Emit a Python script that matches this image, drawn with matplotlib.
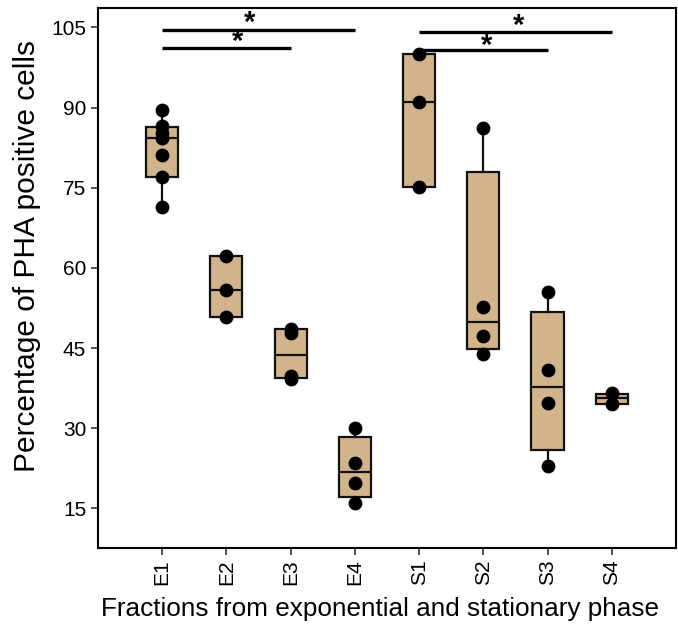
import matplotlib
matplotlib.use("Agg")
import matplotlib.pyplot as plt

plt.rcParams['font.family'] = ['Liberation Sans', 'DejaVu Sans']

fractions = ['E1', 'E2', 'E3', 'E4', 'S1', 'S2', 'S3', 'S4']

# individual measurements per fraction
points = [
    [89.5, 86.5, 85.3, 84.3, 81.2, 77.0, 71.4],
    [62.2, 55.8, 50.9],
    [48.6, 47.8, 39.8, 39.2],
    [30.1, 23.5, 19.8, 16.0],
    [100.0, 91.0, 75.1],
    [86.1, 52.7, 47.2, 43.9],
    [55.5, 40.9, 34.7, 22.9],
    [36.6, 34.6],
]

# box summaries as drawn
q1 = [77.0, 50.8, 39.4, 17.1, 75.1, 44.8, 25.9, 34.5]
med = [84.3, 55.8, 43.7, 21.8, 91.0, 49.9, 37.7, 35.6]
q3 = [86.4, 62.2, 48.5, 28.4, 100.0, 77.9, 51.7, 36.4]
whislo = [71.4, 50.8, 39.2, 16.0, 75.1, 43.9, 22.9, 34.5]
whishi = [89.5, 62.2, 48.6, 30.1, 100.0, 86.1, 55.5, 36.4]

# significance brackets: (from, to, line y, star x, star y)
sig_from = [1, 1, 5, 5]
sig_to = [4, 3, 8, 7]
sig_y = [104.6, 101.1, 104.1, 100.7]
star_x = [2.36, 2.18, 6.55, 6.05]
star_y = [105.8, 102.3, 105.2, 101.6]

fig, ax = plt.subplots(figsize=(6.78, 6.26), dpi=100)
fig.subplots_adjust(left=0.1445, right=0.997, top=0.987, bottom=0.1246)

stats = []
for i in range(len(fractions)):
    stats.append(dict(q1=q1[i], med=med[i], q3=q3[i], whislo=whislo[i],
                      whishi=whishi[i], fliers=[], label=fractions[i]))

pos = list(range(1, len(fractions) + 1))
ax.bxp(stats, positions=pos, widths=0.5, patch_artist=True,
       showcaps=False, showfliers=False,
       boxprops=dict(facecolor='#D2B48C', edgecolor='#111111', linewidth=1.6),
       medianprops=dict(color='#111111', linewidth=1.6),
       whiskerprops=dict(color='#111111', linewidth=1.6))

for i, vals in enumerate(points):
    ax.scatter([pos[i]] * len(vals), vals, s=80, color='black', zorder=3)

for a, b, y, sx, sy in zip(sig_from, sig_to, sig_y, star_x, star_y):
    ax.plot([a, b], [y, y], color='black', linewidth=2.4, solid_capstyle='butt')
    ax.text(sx, sy, '*', ha='center', va='center', fontsize=21, fontweight='bold')

ax.set_xlim(0, 9)
ax.set_ylim(7.6, 108.6)
ax.set_yticks([15, 30, 45, 60, 75, 90, 105])
ax.set_xticks(pos)
ax.set_xticklabels(fractions, rotation=90)
ax.tick_params(labelsize=15, length=5, width=1.2, color='#333333')

for sp in ax.spines.values():
    sp.set_linewidth(1.5)

ax.set_ylabel('Percentage of PHA positive cells', fontsize=21.5)
ax.yaxis.set_label_coords(-0.098, 0.54)
ax.set_xlabel('Fractions from exponential and stationary phase', fontsize=18.8)
ax.xaxis.set_label_coords(0.488, -0.09)

fig.savefig('out.png', dpi=100)
